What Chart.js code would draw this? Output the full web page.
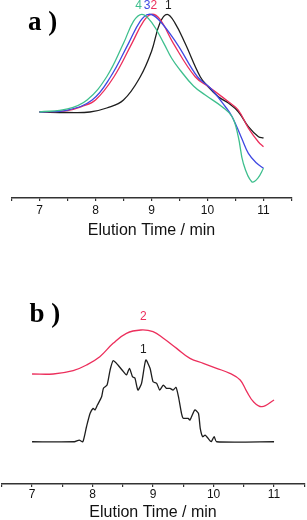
<!DOCTYPE html>
<html>
<head>
<meta charset="utf-8">
<script src="https://cdn.jsdelivr.net/npm/chart.js@4"></script>
<style>
html,body{margin:0;padding:0;background:#fff;overflow:hidden;width:307px;height:520px;}
#ca{position:absolute;left:0;top:0;}
#cb{position:absolute;left:0;top:290px;}
</style>
</head>
<body>
<canvas id="ca" width="307" height="241"></canvas>
<canvas id="cb" width="307" height="233"></canvas>
<script>
// ---- Panel a: normalized GPC traces (baseline 0, peak 100) ----
const timeA1 = [7.0, 7.5, 7.9, 8.2, 8.5, 8.8, 9.0, 9.15, 9.28, 9.42, 9.6, 9.87, 10.0, 10.2, 10.38, 10.55, 10.73, 10.91, 11.0];
const sigA1  = [0, -0.5, 0, 4.1, 12.3, 36.1, 62, 91, 100, 91, 70.3, 36.1, 26.6, 15.4, 8.9, 0.3, -15, -25.3, -26.6];
const timeA2 = [7.0, 7.5, 7.75, 8.0, 8.33, 8.65, 8.86, 9.0, 9.15, 9.39, 9.78, 10.05, 10.38, 10.55, 10.73, 10.91, 11.0];
const sigA2  = [0, 1.5, 5.6, 12.3, 36.1, 70.3, 93, 100, 95, 70.3, 36.1, 24.6, 10.2, 2.0, -16.4, -30.7, -35.5];
const timeA3 = [7.0, 7.5, 7.94, 8.27, 8.59, 8.8, 8.95, 9.12, 9.45, 9.82, 10.05, 10.32, 10.44, 10.61, 10.73, 10.88, 11.0];
const sigA3  = [0, 2, 12.3, 36.1, 70.3, 93, 100, 95, 70.3, 36.1, 24.6, 5.4, -4.8, -26.9, -42.3, -52.5, -57.6];
const timeA4 = [7.0, 7.5, 7.85, 8.2, 8.5, 8.68, 8.83, 9.0, 9.22, 9.36, 9.51, 9.75, 9.96, 10.26, 10.44, 10.55, 10.64, 10.79, 10.9, 11.0];
const sigA4  = [0, 3.1, 12.3, 36.1, 70.3, 93, 100, 92, 70.3, 55, 43, 26.6, 17.4, 5.4, -4.8, -25.3, -52.5, -71.3, -67.6, -57.6];

// ---- Panel b ----
const timeB1 = [7.0, 7.7, 7.78, 7.84, 7.9, 7.96, 8.01, 8.04, 8.08, 8.15, 8.18, 8.24, 8.29, 8.34, 8.42, 8.51, 8.56, 8.61, 8.66, 8.7, 8.75, 8.81, 8.88, 8.95, 9.0, 9.06, 9.11, 9.17, 9.22, 9.28, 9.33, 9.38, 9.42, 9.47, 9.5, 9.58, 9.61, 9.69, 9.75, 9.78, 9.82, 9.86, 9.91, 9.96, 10.01, 10.05, 11.0];
const sigB1  = [0, 0, 2, 0, 18.2, 34.5, 40.5, 38.5, 44.5, 54.6, 64.8, 68.8, 87, 98.3, 93.1, 85, 81, 89.1, 78.9, 77.3, 62.7, 70.9, 99.2, 89.1, 72.8, 70.9, 62.7, 68.8, 64.8, 64.8, 62.7, 66, 54.6, 34.5, 28.4, 28.4, 26.3, 38.5, 34.5, 16.3, 6.1, 8.1, 4.1, 0, 6.1, 0, 0];
const timeB2 = [7.0, 7.35, 7.68, 7.9, 8.12, 8.34, 8.56, 8.8, 9.0, 9.17, 9.39, 9.61, 9.83, 10.05, 10.27, 10.44, 10.55, 10.66, 10.8, 11.0];
const sigB2  = [82.2, 82.2, 86.2, 93.1, 103.2, 119.4, 131.6, 135.6, 133.5, 125.5, 113.3, 101.2, 95.1, 89.1, 83, 74.9, 60.7, 48.5, 42.5, 50.6];

const xTickValues = [6.5, 7, 7.5, 8, 8.5, 9, 9.5, 10, 10.5, 11, 11.5];
const xTitle = 'Elution Time / min';

const C1 = '#1e1e1e', C2 = '#ec2f5c', C3 = '#3f48e2', C4 = '#3fbf8e';

function pts(t, v){ return t.map((x,i)=>({x:x, y:v[i]})); }

function ds(t, v, color, tension){
  return {data: pts(t,v), borderColor: color, borderWidth: 1.3, pointRadius: 0, fill: false, tension: tension};
}

function xScale(tickPad){
  return {
    type: 'linear', min: 6.5, max: 11.5,
    afterBuildTicks: s => { s.ticks = xTickValues.map(v => ({value: v})); },
    ticks: {autoSkip: false, maxRotation: 0, padding: tickPad, color: '#111',
      font: {family: "'Liberation Sans', Arial, sans-serif", size: 12},
      callback: v => Number.isInteger(v) ? String(v) : ''},
    grid: {drawOnChartArea: false, drawTicks: true, tickLength: 3, color: '#333', lineWidth: 1.2},
    border: {display: true, color: '#333', width: 1.5},
    title: {display: true, text: xTitle, color: '#111', padding: {top: 0, bottom: 0},
      font: {family: "'Liberation Sans', Arial, sans-serif", size: 16}}
  };
}

function labelPlugin(labels, panel){
  return {
    id: 'lbl' + panel.id,
    afterDatasetsDraw(chart){
      const ctx = chart.ctx, xs = chart.scales.x, ys = chart.scales.y;
      ctx.save();
      ctx.textAlign = 'center'; ctx.textBaseline = 'middle';
      ctx.font = "12px 'Liberation Sans', Arial, sans-serif";
      labels.forEach(l => {
        ctx.fillStyle = l.color;
        ctx.fillText(l.text, xs.getPixelForValue(l.x), ys.getPixelForValue(l.y));
      });
      ctx.textAlign = 'left'; ctx.textBaseline = 'alphabetic';
      ctx.fillStyle = '#000';
      ctx.font = "bold 27px 'Liberation Serif', 'Times New Roman', serif";
      ctx.fillText(panel.text, panel.x, panel.y);
      ctx.restore();
    }
  };
}

new Chart(document.getElementById('ca'), {
  type: 'line',
  data: {datasets: [ds(timeA4, sigA4, C4, 0.4), ds(timeA3, sigA3, C3, 0.4), ds(timeA2, sigA2, C2, 0.4), ds(timeA1, sigA1, C1, 0.4)]},
  options: {
    responsive: false, animation: false, devicePixelRatio: 1,
    layout: {padding: {left: 11.5, right: 15.5, top: 10, bottom: 0.8}},
    plugins: {legend: {display: false}, tooltip: {enabled: false}},
    scales: {x: xScale(2.8), y: {display: false, min: -88, max: 104.4}}
  },
  plugins: [labelPlugin([
    {text: '4', x: 8.77, y: 108.5, color: C4},
    {text: '3', x: 8.92, y: 108.5, color: C3},
    {text: '2', x: 9.04, y: 108.5, color: C2},
    {text: '1', x: 9.30, y: 108.5, color: C1}
  ], {id: 'a', text: 'a )', x: 28, y: 29.5})]
});

new Chart(document.getElementById('cb'), {
  type: 'line',
  data: {datasets: [ds(timeB2, sigB2, C2, 0.4), ds(timeB1, sigB1, C1, 0.2)]},
  options: {
    responsive: false, animation: false, devicePixelRatio: 1,
    layout: {padding: {left: 1.8, right: 2.7, top: 10, bottom: 0.8}},
    plugins: {legend: {display: false}, tooltip: {enabled: false}},
    scales: {x: xScale(0.8), y: {display: false, min: -51.3, max: 172}}
  },
  plugins: [labelPlugin([
    {text: '2', x: 8.84, y: 151.7, color: C2},
    {text: '1', x: 8.84, y: 112.1, color: C1}
  ], {id: 'b', text: 'b )', x: 29.5, y: 31.7})]
});
</script>
</body>
</html>
